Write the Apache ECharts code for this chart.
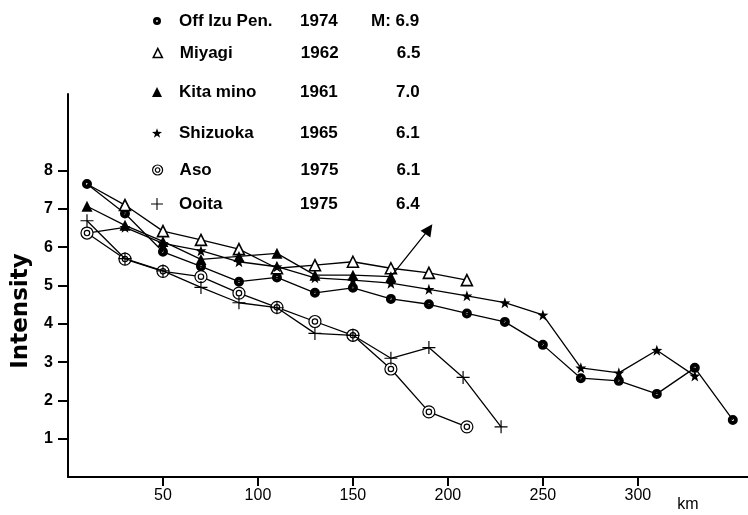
<!DOCTYPE html>
<html><head><meta charset="utf-8">
<script src="https://cdn.jsdelivr.net/npm/echarts@6/dist/echarts.min.js"></script>
<style>html,body{margin:0;padding:0;background:#fff}#c{width:748px;height:515px}</style>
</head><body><div id="c"></div>
<script>
// ---- data (distance in km, JMA intensity) ----
const offIzuKm = [10,30,50,70,90,110,130,150,170,190,210,230,250,270,290,310,330,350];
const offIzu   = [7.65,6.88,5.88,5.5,5.1,5.21,4.81,4.94,4.65,4.51,4.27,4.05,3.45,2.58,2.51,2.17,2.85,1.49];
const miyagiKm = [10,30,50,70,90,110,130,150,170,190,210];
const miyagi   = [7.65,7.1,6.42,6.19,5.95,5.45,5.53,5.62,5.45,5.33,5.14];
const kitaminoKm = [10,30,50,70,90,110,130,150,170,190];
const kitamino   = [7.07,6.57,6.15,5.68,5.76,5.84,5.27,5.27,5.23,6.47];
const shizuokaKm = [10,30,50,70,90,110,130,150,170,190,210,230,250,270,290,310,330];
const shizuoka   = [6.37,6.52,6.1,5.91,5.62,5.49,5.2,5.14,5.06,4.9,4.73,4.55,4.23,2.85,2.72,3.31,2.64];
const asoKm = [10,30,50,70,90,110,130,150,170,190,210];
const aso   = [6.37,5.69,5.37,5.23,4.8,4.43,4.06,3.7,2.82,1.7,1.31];
const ooitaKm = [10,30,50,70,90,110,130,150,170,190,208,228];
const ooita   = [6.69,5.7,5.38,4.95,4.55,4.42,3.75,3.7,3.1,3.38,2.6,1.31];

const names      = ['Off Izu Pen.','Miyagi','Kita mino','Shizuoka','Aso','Ooita'];
const years      = ['1974','1962','1961','1965','1975','1975'];
const magnitudes = ['6.9','6.5','7.0','6.1','6.1','6.4'];
const xTicks = [50,100,150,200,250,300];
const yTicks = [1,2,3,4,5,6,7,8];

// ---- symbols ----
const SYM_DOT   = 'path://M0,10 A10,10 0 1,1 20,10 A10,10 0 1,1 0,10 Z M7.8,10 A2.2,2.2 0 1,0 12.2,10 A2.2,2.2 0 1,0 7.8,10 Z';
const SYM_STAR  = 'path://M10,0 L12.35,6.76 L19.51,6.91 L13.8,11.24 L15.88,18.09 L10,14 L4.12,18.09 L6.2,11.24 L0.49,6.91 L7.65,6.76 Z';
const SYM_BULL  = 'path://M0,10 A10,10 0 1,1 20,10 A10,10 0 1,1 0,10 Z M5.5,10 A4.5,4.5 0 1,1 14.5,10 A4.5,4.5 0 1,1 5.5,10 Z';
const SYM_PLUS  = 'path://M9.1,0 H10.9 V9.1 H20 V10.9 H10.9 V20 H9.1 V10.9 H0 V9.1 H9.1 Z';

const styles = [
  {symbol: SYM_DOT,    size: 10, item: {color:'#000'}},
  {symbol: 'triangle', size: 11, item: {color:'#fff', borderColor:'#000', borderWidth:1.6}},
  {symbol: 'triangle', size: 11, item: {color:'#000'}},
  {symbol: SYM_STAR,   size: 11, item: {color:'#000'}},
  {symbol: SYM_BULL,   size: 12, item: {color:'#fff', borderColor:'#000', borderWidth:1.2}},
  {symbol: SYM_PLUS,   size: 13, item: {color:'#000'}}
];
const legendSizes = [8, 9, 10, 10, 10, 12];
const legendRowsY = [21, 53, 92, 133, 170, 204];

const kmLists = [offIzuKm, miyagiKm, kitaminoKm, shizuokaKm, asoKm, ooitaKm];
const valLists = [offIzu, miyagi, kitamino, shizuoka, aso, ooita];

const series = names.map((n, i) => {
  const data = kmLists[i].map((k, j) => [k, valLists[i][j]]);
  let d = data;
  if (i === 2) {
    d = data.map((p, j) => j === data.length - 1 ? {value: p, symbolRotate: -35, symbolSize: 12} : p);
  }
  if (i === 1) {
    d = data.map((p, j) => j === 0 ? {value: p, symbol: 'none'} : p);
  }
  return {
    name: n, type: 'line', data: d,
    symbol: styles[i].symbol, symbolSize: styles[i].size,
    itemStyle: styles[i].item,
    lineStyle: {color: '#000', width: 1.3},
    emphasis: {disabled: true},
    z: 2 + i
  };
});

const F = 'Liberation Sans';
const legends = names.map((n, i) => {
  const w = legendSizes[i];
  const gap = 179 - (157 + w / 2) - 5;
  return {
    data: [{name: n, icon: styles[i].symbol}],
    left: 157 - w / 2, top: legendRowsY[i] - 10,
    padding: 0, itemWidth: w, itemHeight: w,
    itemGap: 0,
    selectedMode: false,
    itemStyle: Object.assign({}, styles[i].item),
    formatter: function (name) {
      const k = names.indexOf(name);
      if (k === 0) return '{g' + k + '| }{n|' + name + '}{y|' + years[k] + '}{v|M: ' + magnitudes[k] + '}';
      return '{g' + k + '| }{n|' + name + '}{y2|' + years[k] + '}{v|' + magnitudes[k] + '}';
    },
    textStyle: {
      color: '#000', fontFamily: F, fontSize: 17, fontWeight: 'bold', lineHeight: 20,
      rich: {
        ['g' + i]: {width: gap, fontSize: 17, lineHeight: 20},
        n: {width: 121, fontFamily: F, fontSize: 17, fontWeight: 'bold', lineHeight: 20},
        y: {width: 71, fontFamily: F, fontSize: 17, fontWeight: 'bold', lineHeight: 20},
        y2: {width: 96, fontFamily: F, fontSize: 17, fontWeight: 'bold', lineHeight: 20},
        v: {fontFamily: F, fontSize: 17, fontWeight: 'bold', lineHeight: 20}
      }
    }
  };
});

const chart = echarts.init(document.getElementById('c'), null, {renderer: 'canvas'});
chart.setOption({
  animation: false,
  backgroundColor: '#fff',
  grid: {left: 68, right: 0, top: 94, bottom: 38},
  legend: legends,
  xAxis: {
    type: 'value', min: 0, max: 358, interval: 50,
    axisLine: {show: true, onZero: false, lineStyle: {color: '#000', width: 2}},
    axisTick: {show: true, customValues: xTicks, length: 9, lineStyle: {color: '#000', width: 2}},
    axisLabel: {customValues: xTicks, margin: 11, color: '#000', fontSize: 16, fontFamily: F},
    splitLine: {show: false}
  },
  yAxis: {
    type: 'value', min: 0, max: 10, interval: 1,
    axisLine: {show: true, onZero: false, lineStyle: {color: '#000', width: 2}},
    axisTick: {show: true, customValues: yTicks, length: 10, lineStyle: {color: '#000', width: 2}},
    axisLabel: {customValues: yTicks, margin: 15, color: '#000', fontSize: 16, fontWeight: 'bold', fontFamily: F},
    splitLine: {show: false}
  },
  graphic: [
    {type: 'text', x: 21, y: 311, rotation: Math.PI / 2,
     style: {text: 'Intensity', font: 'bold 23px "DejaVu Sans"', fill: '#000', align: 'center', verticalAlign: 'middle'}},
    {type: 'text', x: 688, y: 505,
     style: {text: 'km', font: '16px "Liberation Sans"', fill: '#000', align: 'center', verticalAlign: 'middle'}}
  ],
  series: series
});
</script>
</body></html>
